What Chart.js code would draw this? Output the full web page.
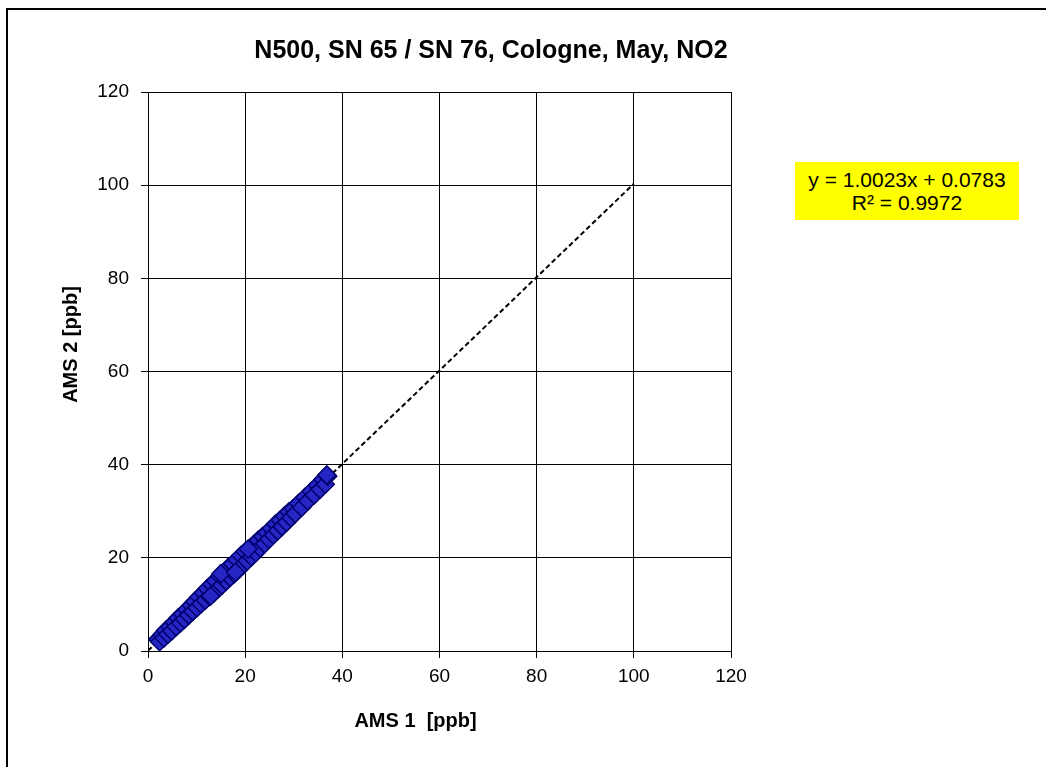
<!DOCTYPE html>
<html>
<head>
<meta charset="utf-8">
<title>N500, SN 65 / SN 76, Cologne, May, NO2</title>
<script src="https://cdn.jsdelivr.net/npm/chart.js@4.4.0/dist/chart.umd.min.js"></script>
<style>
    body { margin: 0; background: #fff; font-family: "Liberation Sans", Arial, sans-serif; }
    #wrap { position: relative; width: 1046px; height: 767px; overflow: hidden; }
    #frame {
        position: absolute; left: 6px; top: 8px; right: 0; bottom: 0;
        border-top: 2px solid #000; border-left: 2px solid #000;
        pointer-events: none;
    }
    #trendBox {
        position: absolute; left: 795px; top: 162px; width: 224px; height: 58px;
        background: #ffff00; color: #000; font-size: 21px; line-height: 23px;
        text-align: center; padding-top: 6px; box-sizing: border-box; white-space: nowrap;
    }
</style>
</head>
<body>
<div id="wrap">
    <canvas id="scatterChart" width="1046" height="767"></canvas>
    <div id="frame"></div>
    <div id="trendBox">y = 1.0023x + 0.0783<br>R² = 0.9972</div>
</div>
<script>
// Chart texts
const chartTitle = 'N500, SN 65 / SN 76, Cologne, May, NO2';
const xTitle = 'AMS 1  [ppb]';
const yTitle = 'AMS 2 [ppb]';

// Axis ticks
const xTicks = [0, 20, 40, 60, 80, 100, 120];
const yTicks = [0, 20, 40, 60, 80, 100, 120];

// Measured NO2 values, AMS 1 vs AMS 2 (ppb)
const amsX = [2.0, 2.4, 2.9, 3.3, 3.6, 4.1, 4.5, 4.9, 5.4, 5.8, 6.2, 6.7, 7.1, 7.5, 8.0, 8.4,
    8.9, 9.2, 9.6, 10.1, 10.5, 10.9, 11.4, 11.8, 12.2, 12.7, 13.1, 13.5, 13.9, 14.4, 14.8,
    15.2, 15.7, 16.1, 16.5, 16.9, 17.4, 17.8, 18.3, 18.7, 19.1, 19.6, 20.0, 20.4, 20.9,
    21.3, 21.8, 22.2, 22.7, 23.1, 23.6, 24.0, 24.5, 24.9, 25.4, 25.8, 26.3, 26.7, 27.2,
    27.6, 28.1, 28.5, 29.0, 29.4, 29.9, 30.3, 31.0, 31.6, 32.3, 32.9, 33.6, 34.2, 34.9,
    35.4, 36.0, 36.5, 37.0, 36.8, 15.0, 18.0, 20.6, 12.9];
const amsY = [2.5, 2.0, 3.5, 2.8, 4.4, 3.6, 5.2, 4.3, 6.2, 5.2, 7.1, 6.0, 7.9, 6.8, 8.9, 7.7,
    9.8, 8.5, 10.6, 9.3, 11.6, 10.1, 12.5, 10.9, 13.4, 11.7, 14.3, 12.4, 15.1, 13.3, 16.1,
    14.1, 17.0, 15.0, 17.9, 15.8, 18.7, 16.6, 19.6, 17.5, 20.5, 18.5, 21.3, 19.3, 22.0,
    20.2, 22.9, 21.1, 23.8, 22.1, 24.6, 23.0, 25.4, 24.0, 26.3, 24.9, 27.3, 25.8, 28.1,
    26.7, 29.0, 27.6, 29.9, 28.6, 30.6, 29.5, 31.7, 30.8, 33.0, 32.2, 34.3, 33.5, 35.6,
    34.7, 36.8, 35.8, 37.5, 37.8, 16.6, 16.9, 21.9, 11.8];

// Linear trend line end points
const trendX = [0, 100];
const trendY = [0.08, 100.31];

// Draw title and axis titles at their spots in the sheet
const textPlugin = {
    id: 'sheetText',
    afterDraw(chart) {
        const ctx = chart.ctx;
        const area = chart.chartArea;
        ctx.save();
        ctx.fillStyle = '#000';
        ctx.textAlign = 'center';
        ctx.textBaseline = 'middle';

        ctx.font = 'bold 25px "Liberation Sans", Arial, sans-serif';
        ctx.fillText(chartTitle, 491, 51);

        ctx.font = 'bold 20px "Liberation Sans", Arial, sans-serif';
        ctx.fillText(xTitle, (area.left + area.right) / 2 - 24, 721);

        ctx.translate(71, (area.top + area.bottom) / 2 - 27);
        ctx.rotate(-Math.PI / 2);
        ctx.fillText(yTitle, 0, 0);
        ctx.restore();
    }
};

const axisFont = { family: '"Liberation Sans", Arial, sans-serif', size: 19 };

new Chart(document.getElementById('scatterChart').getContext('2d'), {
    type: 'scatter',
    data: {
        datasets: [{
            label: 'AMS 2',
            data: amsX.map((x, i) => ({ x: x, y: amsY[i] })),
            pointStyle: 'rectRot',
            pointRadius: 9,
            backgroundColor: '#2626c4',
            borderColor: '#00006e',
            borderWidth: 1.5
        }, {
            label: 'Trend',
            type: 'line',
            data: trendX.map((x, i) => ({ x: x, y: trendY[i] })),
            borderColor: '#000',
            borderWidth: 2,
            borderDash: [5, 3],
            pointRadius: 0,
            fill: false
        }]
    },
    options: {
        responsive: false,
        animation: false,
        devicePixelRatio: 1,
        layout: { padding: { left: 0, top: 92, right: 315, bottom: 0 } },
        plugins: {
            legend: { display: false },
            tooltip: { enabled: false },
            title: { display: false }
        },
        scales: {
            x: {
                type: 'linear',
                min: xTicks[0],
                max: xTicks[xTicks.length - 1],
                afterBuildTicks: scale => { scale.ticks = xTicks.map(v => ({ value: v })); },
                afterFit: scale => { scale.height = 116; },
                grid: { color: '#000', lineWidth: 1, tickLength: 7, tickColor: '#000' },
                border: { color: '#000', width: 1 },
                ticks: { color: '#000', font: axisFont, padding: 7, maxRotation: 0 }
            },
            y: {
                type: 'linear',
                min: yTicks[0],
                max: yTicks[yTicks.length - 1],
                afterBuildTicks: scale => { scale.ticks = yTicks.map(v => ({ value: v })); },
                afterFit: scale => { scale.width = 148; },
                grid: { color: '#000', lineWidth: 1, tickLength: 7, tickColor: '#000' },
                border: { color: '#000', width: 1 },
                ticks: { color: '#000', font: axisFont, padding: 12 }
            }
        }
    },
    plugins: [textPlugin]
});
</script>
</body>
</html>
